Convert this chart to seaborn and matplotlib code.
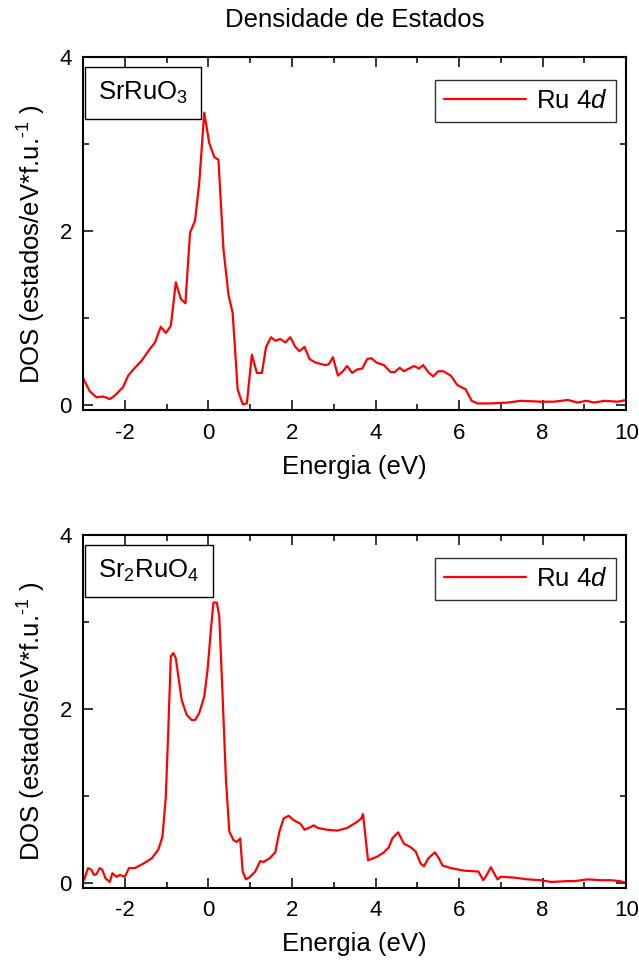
import numpy as np
import pandas as pd
import matplotlib
matplotlib.use("Agg")
import matplotlib.pyplot as plt
from matplotlib.ticker import MultipleLocator
import seaborn as sns

# Ru 4d projected density of states, SrRuO3
energy_113 = [-3.00, -2.84, -2.68, -2.52, -2.36, -2.24, -2.04, -1.92, -1.76, -1.60,
              -1.44, -1.28, -1.14, -1.02, -0.90, -0.78, -0.66, -0.55, -0.44, -0.32,
              -0.22, -0.10, 0.02, 0.14, 0.24, 0.36, 0.48, 0.58, 0.70, 0.82,
              0.92, 1.04, 1.16, 1.28, 1.38, 1.50, 1.60, 1.72, 1.84, 1.96,
              2.08, 2.18, 2.30, 2.42, 2.56, 2.80, 2.88, 2.98, 3.10, 3.22,
              3.32, 3.44, 3.56, 3.68, 3.80, 3.90, 4.02, 4.20, 4.36, 4.46,
              4.58, 4.68, 4.80, 4.92, 5.04, 5.14, 5.26, 5.38, 5.50, 5.62,
              5.80, 5.96, 6.16, 6.30, 6.44, 6.76, 7.16, 7.48, 7.96, 8.28,
              8.60, 8.84, 9.04, 9.24, 9.48, 9.80, 10.00]
dos_113 = [0.31, 0.16, 0.09, 0.10, 0.07, 0.11, 0.21, 0.34, 0.43, 0.51,
           0.62, 0.72, 0.90, 0.83, 0.91, 1.41, 1.22, 1.17, 1.98, 2.12,
           2.55, 3.36, 3.01, 2.85, 2.82, 1.79, 1.27, 1.06, 0.18, 0.01,
           0.02, 0.58, 0.37, 0.37, 0.67, 0.78, 0.74, 0.76, 0.72, 0.78,
           0.67, 0.62, 0.67, 0.53, 0.49, 0.46, 0.47, 0.55, 0.34, 0.39,
           0.45, 0.37, 0.41, 0.42, 0.53, 0.54, 0.49, 0.46, 0.38, 0.38,
           0.43, 0.39, 0.42, 0.45, 0.42, 0.46, 0.38, 0.33, 0.39, 0.39,
           0.34, 0.23, 0.18, 0.05, 0.02, 0.02, 0.03, 0.05, 0.04, 0.04,
           0.06, 0.03, 0.05, 0.03, 0.05, 0.04, 0.06]

# Ru 4d projected density of states, Sr2RuO4
energy_214 = [-2.98, -2.88, -2.80, -2.74, -2.68, -2.60, -2.54, -2.46, -2.36, -2.30,
              -2.20, -2.12, -2.00, -1.90, -1.76, -1.56, -1.36, -1.20, -1.10, -1.02,
              -0.96, -0.90, -0.84, -0.78, -0.72, -0.64, -0.52, -0.40, -0.32, -0.22,
              -0.10, -0.02, 0.06, 0.12, 0.20, 0.26, 0.34, 0.42, 0.50, 0.60,
              0.68, 0.76, 0.82, 0.90, 1.00, 1.12, 1.24, 1.32, 1.46, 1.60,
              1.70, 1.80, 1.92, 2.04, 2.20, 2.30, 2.40, 2.52, 2.62, 2.84,
              3.08, 3.32, 3.56, 3.66, 3.70, 3.82, 4.04, 4.20, 4.32, 4.40,
              4.54, 4.68, 4.84, 4.96, 5.08, 5.16, 5.26, 5.42, 5.52, 5.60,
              5.80, 6.12, 6.46, 6.58, 6.66, 6.76, 6.86, 6.92, 7.00, 7.32,
              7.64, 7.96, 8.20, 8.60, 8.76, 9.08, 9.40, 9.64, 9.84, 10.00]
dos_214 = [0.03, 0.17, 0.15, 0.09, 0.10, 0.17, 0.15, 0.05, 0.01, 0.11,
           0.07, 0.09, 0.07, 0.17, 0.17, 0.22, 0.28, 0.38, 0.53, 0.99,
           1.76, 2.60, 2.64, 2.58, 2.37, 2.10, 1.93, 1.87, 1.87, 1.95,
           2.14, 2.45, 2.91, 3.22, 3.22, 3.06, 2.14, 1.18, 0.59, 0.49,
           0.47, 0.51, 0.13, 0.04, 0.07, 0.13, 0.25, 0.24, 0.28, 0.35,
           0.59, 0.74, 0.77, 0.72, 0.68, 0.61, 0.63, 0.66, 0.63, 0.61,
           0.60, 0.63, 0.70, 0.74, 0.79, 0.26, 0.30, 0.35, 0.41, 0.51,
           0.58, 0.45, 0.41, 0.36, 0.22, 0.19, 0.28, 0.35, 0.28, 0.20,
           0.17, 0.14, 0.13, 0.03, 0.09, 0.18, 0.09, 0.04, 0.07, 0.06,
           0.04, 0.03, 0.01, 0.02, 0.02, 0.04, 0.03, 0.03, 0.02, 0.00]

compounds = ["SrRuO$_3$", "Sr$_2$RuO$_4$"]
series_label = "Ru 4$\\mathit{d}$"
x_ticks = [-2, 0, 2, 4, 6, 8, 10]
y_ticks = [0, 2, 4]

sns.set_style("ticks")
plt.rcParams["font.family"] = ["Liberation Sans", "DejaVu Sans"]
plt.rcParams["mathtext.fontset"] = "custom"
plt.rcParams["mathtext.rm"] = "Liberation Sans"
plt.rcParams["mathtext.it"] = "Liberation Sans:italic"
plt.rcParams["mathtext.default"] = "regular"
plt.rcParams["axes.unicode_minus"] = False
plt.rcParams["text.color"] = "black"
plt.rcParams["axes.labelcolor"] = "black"
plt.rcParams["xtick.color"] = "black"
plt.rcParams["ytick.color"] = "black"

fig = plt.figure(figsize=(6.39, 9.65), dpi=100)
ax_top = fig.add_axes([0.130, 0.575, 0.850, 0.366])
ax_bot = fig.add_axes([0.130, 0.080, 0.850, 0.366])

panels = [
    (ax_top, energy_113, dos_113, compounds[0]),
    (ax_bot, energy_214, dos_214, compounds[1]),
]

for ax, e, d, name in panels:
    df = pd.DataFrame({"Energia": e, "DOS": d})
    sns.lineplot(data=df, x="Energia", y="DOS", color="#ff0000", lw=1.6,
                 label=series_label, ax=ax, sort=False, estimator=None)
    ax.set_xlim(-3, 10)
    ax.set_ylim(-0.057, 4)
    ax.set_xticks(x_ticks)
    ax.set_yticks(y_ticks)
    ax.xaxis.set_minor_locator(MultipleLocator(1))
    ax.yaxis.set_minor_locator(MultipleLocator(1))
    ax.tick_params(which="both", direction="in", top=True, right=True,
                   width=1.1, labelsize=16, colors="black")
    ax.tick_params(which="major", length=7, pad=9)
    ax.tick_params(axis="y", which="major", pad=8)
    ax.tick_params(which="minor", length=4)
    for s in ax.spines.values():
        s.set_linewidth(1.5)
        s.set_color("black")
    ax.set_xlabel("Energia (eV)", fontsize=18.5, labelpad=8)
    ax.set_ylabel("DOS (estados/eV*f.u.$^{\\text{-1}}$ )", fontsize=18.5)
    ax.yaxis.set_label_coords(-0.065, 0.47)
    leg = ax.legend(loc="upper right", bbox_to_anchor=(0.982, 0.935),
                    fontsize=18.5, frameon=True, fancybox=False,
                    handlelength=3.2, handletextpad=0.4, borderpad=0.35,
                    borderaxespad=0.0)
    leg.get_frame().set_edgecolor("black")
    leg.get_frame().set_linewidth(1.0)
    ax.text(0.028, 0.897, name, transform=ax.transAxes, fontsize=18.5,
            ha="left", va="center",
            bbox=dict(boxstyle="square,pad=0.5", fc="white", ec="black", lw=1.0))

fig.text(0.555, 1 - 20 / 965, "Densidade de Estados", ha="center", va="center",
         fontsize=18.5)

fig.savefig("out.png", dpi=100)
